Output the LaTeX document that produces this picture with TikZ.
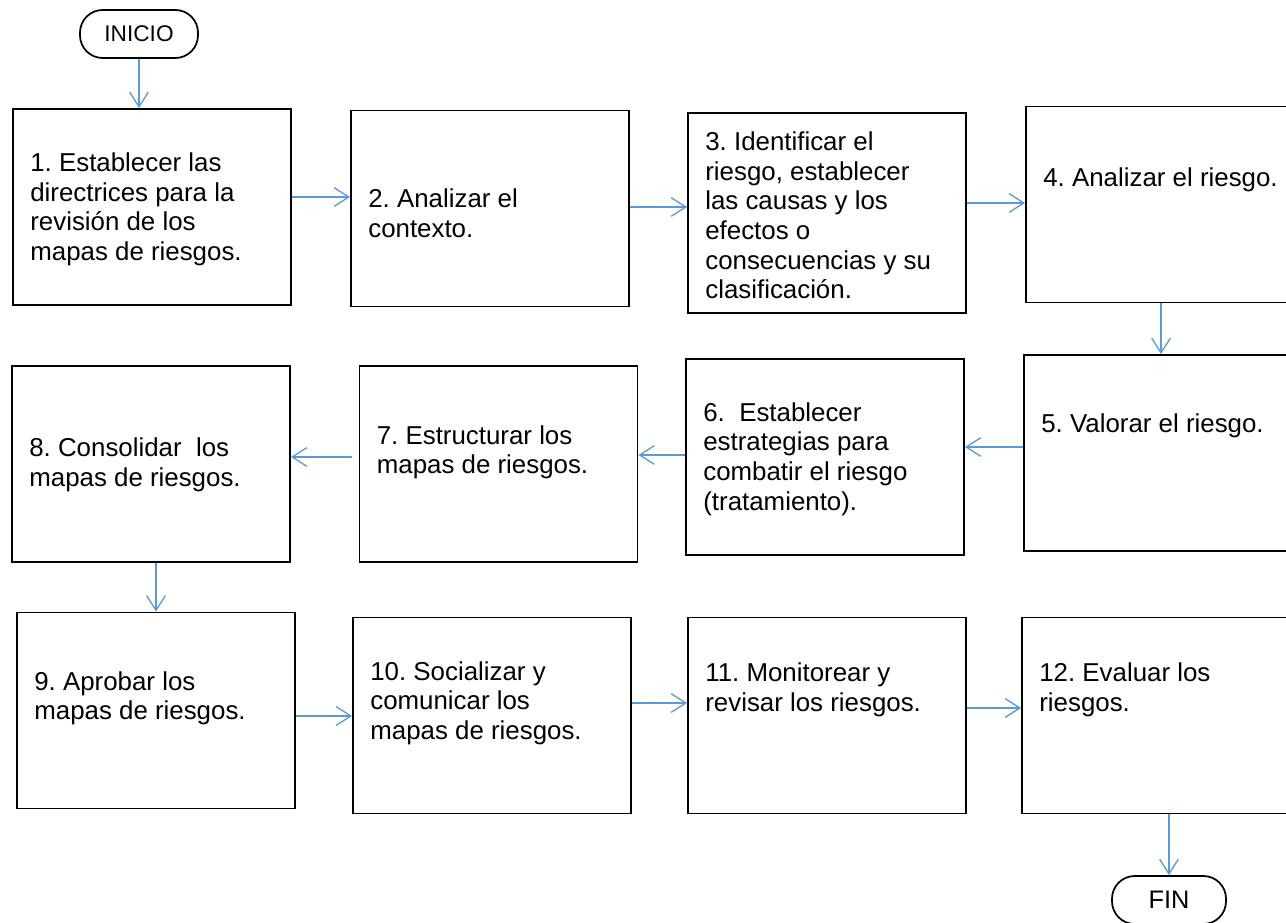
\documentclass[tikz,border=0pt]{standalone}
\usepackage{fontspec}
\setmainfont{Liberation Sans}
\usepackage{xcolor}
\usetikzlibrary{positioning,arrows.meta}
\definecolor{arrowblue}{HTML}{5B9BD5}
\frenchspacing

\begin{document}
\begin{tikzpicture}[
    x=0.75pt, y=-0.75pt,
    every node/.style={inner sep=0pt},
    box/.style={rectangle, draw, line width=1.4pt, minimum width=208.5pt, minimum height=147pt},
    term/.style={rectangle, draw, line width=1.3pt, rounded corners=17pt, minimum width=88.5pt, minimum height=36pt, font=\fontsize{17}{20}\selectfont},
    txt/.style={anchor=west, align=left, xshift=13.5pt, font=\fontsize{19.4}{22.2}\selectfont},
    arr/.style={draw=arrowblue, line width=1pt, -{Straight Barb[length=11pt,width=14pt]}}
]
\useasboundingbox (0,0) rectangle (1286,923);

% start and end
\node[term] (inicio) at (139,34) {INICIO};
\node[term, minimum width=85.5pt, font=\fontsize{19}{22}\selectfont] (fin) at (1169,900) {FIN};

% first row
\node[box] (b1) at (152,207) {};
\node[box] (b2) at (490,208.5) {};
\node[box, minimum height=150pt] (b3) at (827,213) {};
\node[box] (b4) at (1165,204.5) {};

% second row
\node[box] (b5) at (1163,453) {};
\node[box] (b6) at (825,457) {};
\node[box] (b7) at (498.5,464) {};
\node[box] (b8) at (151,464) {};

% third row
\node[box] (b9) at (156,710.5) {};
\node[box] (b10) at (492,715.5) {};
\node[box] (b11) at (827,715.5) {};
\node[box] (b12) at (1161,715.5) {};

% texts
\node[txt] (t1) at (b1.west |- 0,209.5) {1. Establecer las\\directrices para la\\revisión de los\\mapas de riesgos.};
\node[txt] (t2) at (b2.west |- 0,213) {2. Analizar el\\contexto.};
\node[txt] (t3) at (b3.west |- 0,215.5) {3. Identificar el\\riesgo, establecer\\las causas y los\\efectos o\\consecuencias y su\\clasificación.};
\node[txt] (t4) at (b4.west |- 0,180) {4. Analizar el riesgo.};
\node[txt] (t5) at (b5.west |- 0,426) {5. Valorar el riesgo.};
\node[txt] (t6) at (b6.west |- 0,459) {6.\ \ Establecer\\estrategias para\\combatir el riesgo\\(tratamiento).};
\node[txt] (t7) at (b7.west |- 0,452.5) {7. Estructurar los\\mapas de riesgos.};
\node[txt] (t8) at (b8.west |- 0,465) {8. Consolidar\ \ los\\mapas de riesgos.};
\node[txt] (t9) at (b9.west |- 0,698.5) {9. Aprobar los\\mapas de riesgos.};
\node[txt] (t10) at (b10.west |- 0,703) {10. Socializar y\\comunicar los\\mapas de riesgos.};
\node[txt] (t11) at (b11.west |- 0,690) {11. Monitorear y\\revisar los riesgos.};
\node[txt] (t12) at (b12.west |- 0,690) {12. Evaluar los\\riesgos.};

% arrows
\draw[arr] (inicio.south) -- (inicio.south |- b1.north);
\draw[arr] (b1.east |- 0,197) -- (b2.west |- 0,197);
\draw[arr] (b2.east |- 0,207) -- (b3.west |- 0,207);
\draw[arr] (b3.east |- 0,203) -- (b4.west |- 0,203);
\draw[arr] (b4.south -| 1161,0) -- (b5.north -| 1161,0);
\draw[arr] (b5.west |- 0,447) -- (b6.east |- 0,447);
\draw[arr] (b6.west |- 0,455) -- (b7.east |- 0,455);
\draw[arr, shorten <=5pt] (b7.west |- 0,457) -- (b8.east |- 0,457);
\draw[arr] (b8.south -| b9.north) -- (b9.north);
\draw[arr] (b9.east |- 0,716) -- (b10.west |- 0,716);
\draw[arr] (b10.east |- 0,703) -- (b11.west |- 0,703);
\draw[arr] (b11.east |- 0,708) -- (b12.west |- 0,708);
\draw[arr] (b12.south -| fin.north) -- (fin.north);
\end{tikzpicture}
\end{document}
